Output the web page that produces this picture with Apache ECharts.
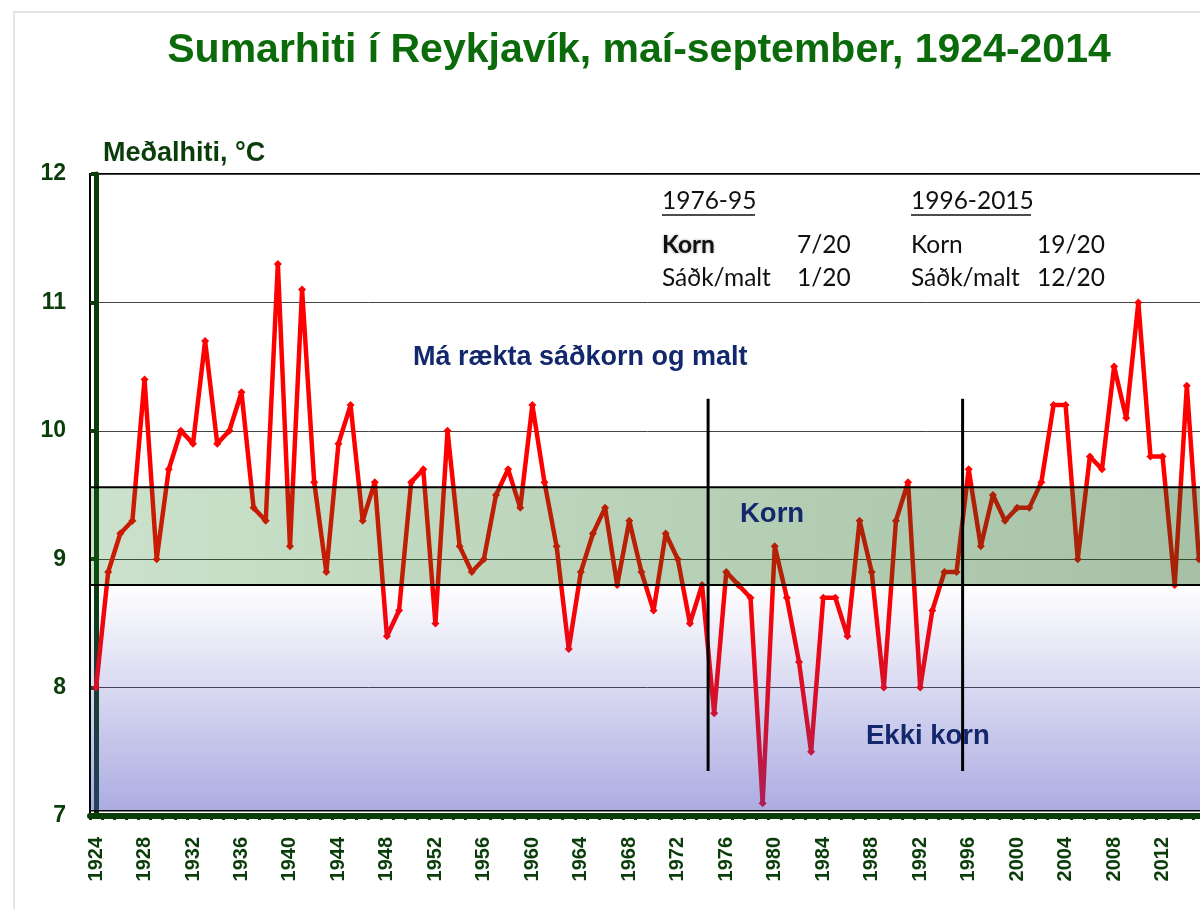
<!DOCTYPE html>
<html>
<head>
<meta charset="utf-8">
<script src="https://cdn.jsdelivr.net/npm/echarts@6/dist/echarts.min.js"></script>
<style>html,body{margin:0;padding:0;background:#fff;overflow:hidden;width:1200px;height:909px}#c{width:1212px;height:909px}</style>
</head>
<body>
<div id="c"></div>
<script>
// Years (categories)
const years = [];
for (let y = 1924; y <= 2015; y++) years.push(String(y));

// Mean temperature May-September, Reykjavík (°C)
const temps = [
  8.0, 8.9, 9.2, 9.3, 10.4, 9.0, 9.7, 10.0, 9.9, 10.7,
  9.9, 10.0, 10.3, 9.4, 9.3, 11.3, 9.1, 11.1, 9.6, 8.9,
  9.9, 10.2, 9.3, 9.6, 8.4, 8.6, 9.6, 9.7, 8.5, 10.0,
  9.1, 8.9, 9.0, 9.5, 9.7, 9.4, 10.2, 9.6, 9.1, 8.3,
  8.9, 9.2, 9.4, 8.8, 9.3, 8.9, 8.6, 9.2, 9.0, 8.5,
  8.8, 7.8, 8.9, 8.8, 8.7, 7.1, 9.1, 8.7, 8.2, 7.5,
  8.7, 8.7, 8.4, 9.3, 8.9, 8.0, 9.3, 9.6, 8.0, 8.6,
  8.9, 8.9, 9.7, 9.1, 9.5, 9.3, 9.4, 9.4, 9.6, 10.2,
  10.2, 9.0, 9.8, 9.7, 10.5, 10.1, 11.0, 9.8, 9.8, 8.8,
  10.35, 9.0
];

// Y axis
const yMin = 7, yMax = 12, yStep = 1;

// Bands (°C)
const kornBand = [8.8, 9.56];
const ekkiBand = [7.04, 8.8];

// Period dividers (category index positions between years) and their vertical span
const dividerX = [50.5, 71.5];   // between 1974/1975 and 1995/1996
const dividerY = [7.35, 10.25];

const titleText = 'Sumarhiti í Reykjavík, maí-september, 1924-2014';
const yName = 'Meðalhiti, °C';

const chart = echarts.init(document.getElementById('c'), null, {renderer: 'canvas'});

const darkGreen = '#0b3d0b';
const navy = '#13286c';
const annFont = 'Lato, "Open Sans", sans-serif';
const arial = 'Arial, "Liberation Sans", sans-serif';
const annSize = '24.5px ';

const option = {
  backgroundColor: '#ffffff',
  animation: false,
  grid: {left: 90, top: 174, width: 1115, bottom: 93, show: true, borderColor: '#000', borderWidth: 2, backgroundColor: 'transparent'},
  xAxis: [{
    type: 'category',
    data: years,
    boundaryGap: true,
    axisLine: {show: true, lineStyle: {color: darkGreen, width: 6}},
    axisTick: {show: true, interval: 0, length: 4, lineStyle: {color: darkGreen, width: 3}},
    axisLabel: {interval: 3, rotate: 90, margin: 21, color: darkGreen, fontFamily: arial, fontWeight: 'bold', fontSize: 20},
    splitLine: {show: false}
  }, {
    type: 'value', min: -0.5, max: 91.5, show: false
  }],
  yAxis: {
    type: 'value', min: yMin, max: yMax, interval: yStep,
    axisLine: {show: true, lineStyle: {color: darkGreen, width: 5}},
    axisTick: {show: true, length: 5, lineStyle: {color: darkGreen, width: 4}},
    axisLabel: {margin: 24, color: darkGreen, fontFamily: arial, fontWeight: 'bold', fontSize: 23},
    splitLine: {show: true, lineStyle: {color: '#444', width: 1}}
  },
  series: [
    {
      name: 'Meðalhiti',
      type: 'line',
      data: temps,
      z: 2,
      symbol: 'diamond',
      symbolSize: 8,
      lineStyle: {color: '#ff0000', width: 4.5},
      itemStyle: {color: '#ff0000'}
    },
    {
      name: 'bands',
      type: 'line',
      data: [],
      markArea: {
        silent: true,
        z: 3,
        data: [
          [{yAxis: kornBand[0], itemStyle: {
              color: new echarts.graphic.LinearGradient(0, 0, 1, 0, [
                {offset: 0, color: 'rgba(20,120,20,0.22)'},
                {offset: 1, color: 'rgba(20,90,20,0.38)'}
              ]), borderColor: '#000', borderWidth: 2}},
           {yAxis: kornBand[1]}],
          [{yAxis: ekkiBand[0], itemStyle: {
              color: new echarts.graphic.LinearGradient(0, 0, 0, 1, [
                {offset: 0, color: 'rgba(70,70,190,0.0)'},
                {offset: 1, color: 'rgba(70,70,190,0.45)'}
              ]), borderColor: '#000', borderWidth: 1.5}},
           {yAxis: ekkiBand[1]}]
        ]
      }
    },
    {
      type: 'line', xAxisIndex: 1, z: 5, symbol: 'none', silent: true,
      data: [[dividerX[0], dividerY[0]], [dividerX[0], dividerY[1]]],
      lineStyle: {color: '#000', width: 3}
    },
    {
      type: 'line', xAxisIndex: 1, z: 5, symbol: 'none', silent: true,
      data: [[dividerX[1], dividerY[0]], [dividerX[1], dividerY[1]]],
      lineStyle: {color: '#000', width: 3}
    }
  ],
  graphic: [
    {type: 'rect', shape: {x: 14, y: 12, width: 1300, height: 1000}, style: {fill: 'none', stroke: '#dcdcdc', lineWidth: 1.5}, z: -1, silent: true},
    {type: 'text', x: 639, y: 51, style: {text: titleText, fill: '#0b6b0b', font: 'bold 41px ' + arial, textAlign: 'center', textVerticalAlign: 'middle'}},
    {type: 'text', left: 103, top: 140, style: {text: yName, fill: darkGreen, font: 'bold 27px ' + arial}},

    {type: 'text', left: 662, top: 189, style: {text: '1976-95', fill: '#111', font: annSize + annFont}},
    {type: 'line', shape: {x1: 662, y1: 215, x2: 755, y2: 215}, style: {stroke: '#111', lineWidth: 1.5}},
    {type: 'text', left: 662, top: 233, style: {text: 'Korn', fill: '#111', font: 'bold ' + annSize + annFont, textShadowColor: 'rgba(0,0,0,0.35)', textShadowBlur: 3}},
    {type: 'text', left: 797, top: 233, style: {text: '7/20', fill: '#111', font: annSize + annFont}},
    {type: 'text', left: 662, top: 266, style: {text: 'Sáðk/malt', fill: '#111', font: annSize + annFont}},
    {type: 'text', left: 797, top: 266, style: {text: '1/20', fill: '#111', font: annSize + annFont}},

    {type: 'text', left: 911, top: 189, style: {text: '1996-2015', fill: '#111', font: annSize + annFont}},
    {type: 'line', shape: {x1: 911, y1: 215, x2: 1031, y2: 215}, style: {stroke: '#111', lineWidth: 1.5}},
    {type: 'text', left: 911, top: 233, style: {text: 'Korn', fill: '#111', font: annSize + annFont}},
    {type: 'text', left: 1037, top: 233, style: {text: '19/20', fill: '#111', font: annSize + annFont}},
    {type: 'text', left: 911, top: 266, style: {text: 'Sáðk/malt', fill: '#111', font: annSize + annFont}},
    {type: 'text', left: 1037, top: 266, style: {text: '12/20', fill: '#111', font: annSize + annFont}},

    {type: 'text', left: 413, top: 344, z: 10, style: {text: 'Má rækta sáðkorn og malt', fill: navy, font: 'bold 27px ' + arial}},
    {type: 'text', left: 740, top: 500, z: 10, style: {text: 'Korn', fill: navy, font: 'bold 27.5px ' + arial}},
    {type: 'text', left: 866, top: 722, z: 10, style: {text: 'Ekki korn', fill: navy, font: 'bold 27.5px ' + arial}}
  ]
};
chart.setOption(option);
</script>
</body>
</html>
